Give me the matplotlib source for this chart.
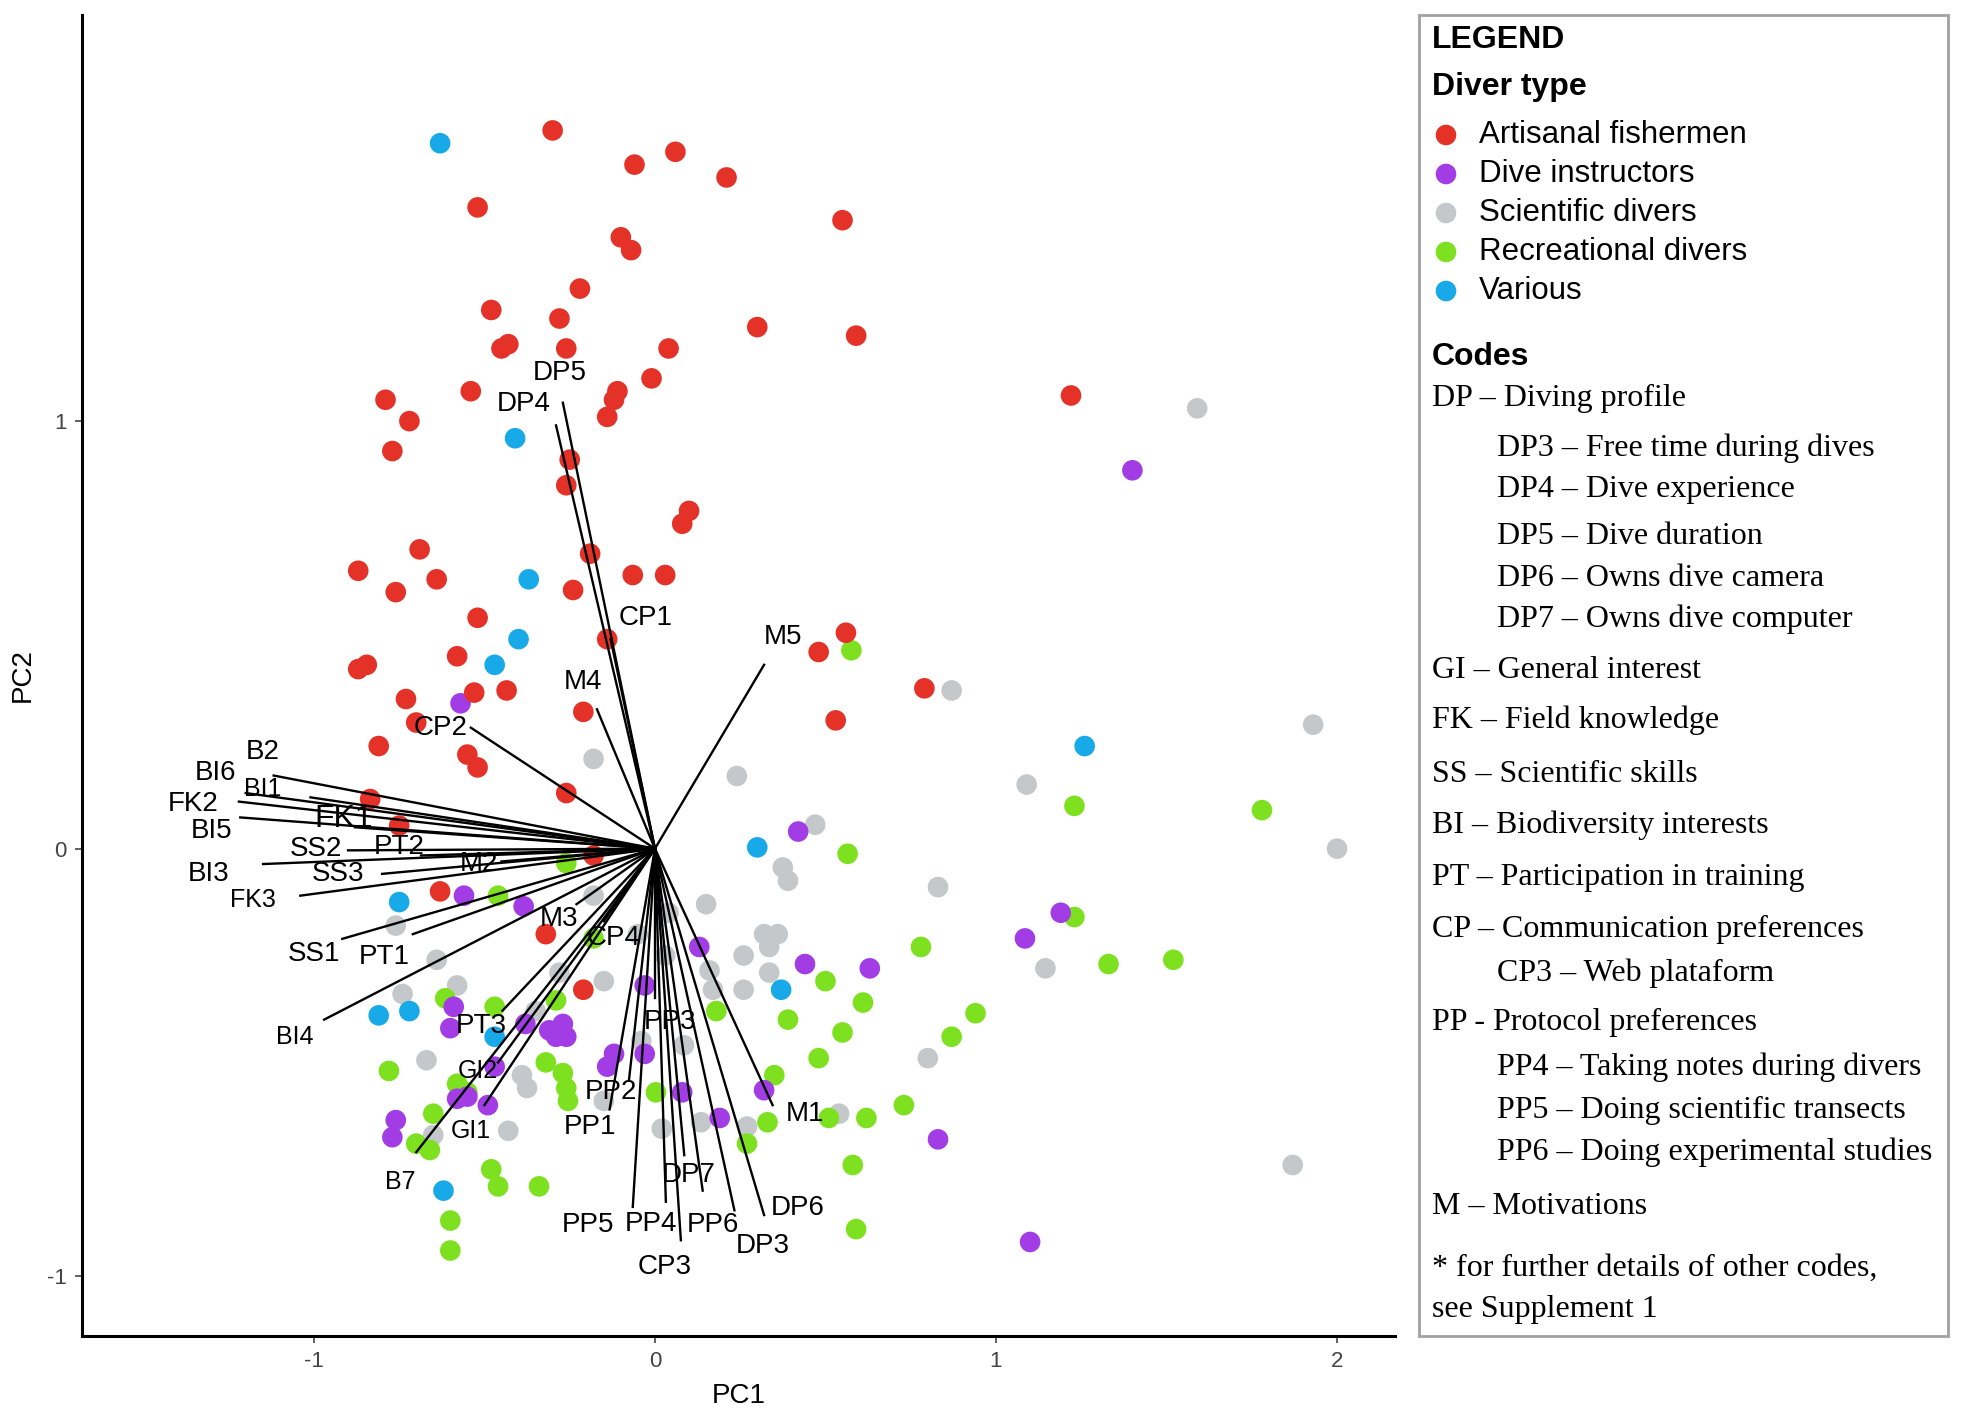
import matplotlib
matplotlib.use("Agg")
import matplotlib.pyplot as plt
from matplotlib.patches import Rectangle

# --- individual scores (PC1, PC2) by diver type ---
fisher_x = [-0.30, -0.06, 0.06, 0.21, -0.52, 0.55, -0.10, -0.07, -0.22, -0.48, -0.28, 0.30, 0.59,
            -0.43, -0.45, -0.26, 0.04, -0.01, -0.54, -0.11, -0.12, -0.79, -0.72, -0.14, 1.22, -0.77,
            -0.25, -0.26, 0.10, 0.08, -0.69, -0.87, -0.76, -0.64, -0.19, -0.065, 0.03, -0.24, -0.52,
            -0.14, 0.56, 0.48, -0.58, -0.87, -0.845, -0.73, -0.53, -0.435, -0.21, 0.53, 0.79, -0.70,
            -0.81, -0.55, -0.52, -0.26, -0.835, -0.75, -0.18, -0.63, -0.32, -0.21]
fisher_y = [1.68, 1.60, 1.63, 1.57, 1.50, 1.47, 1.43, 1.40, 1.31, 1.26, 1.24, 1.22, 1.20,
            1.18, 1.17, 1.17, 1.17, 1.10, 1.07, 1.07, 1.05, 1.05, 1.00, 1.01, 1.06, 0.93,
            0.91, 0.85, 0.79, 0.76, 0.70, 0.65, 0.60, 0.63, 0.69, 0.64, 0.64, 0.605, 0.54,
            0.49, 0.505, 0.46, 0.45, 0.42, 0.43, 0.35, 0.365, 0.37, 0.32, 0.30, 0.375, 0.295,
            0.24, 0.22, 0.19, 0.13, 0.116, 0.054, -0.016, -0.10, -0.20, -0.33]

instr_x = [1.40, -0.57, 0.42, -0.56, -0.385, 1.19, 1.085, 0.13, 0.44, 0.63, -0.03, -0.59, -0.60,
           -0.38, -0.31, -0.27, -0.26, -0.29, -0.12, -0.14, -0.03, -0.47, -0.58, -0.55, -0.49,
           0.08, 0.32, 0.19, -0.76, -0.77, 0.83, 1.10]
instr_y = [0.885, 0.34, 0.04, -0.11, -0.135, -0.15, -0.21, -0.23, -0.27, -0.28, -0.32, -0.37, -0.42,
           -0.41, -0.425, -0.41, -0.44, -0.44, -0.48, -0.51, -0.48, -0.51, -0.585, -0.58, -0.60,
           -0.57, -0.565, -0.63, -0.635, -0.675, -0.68, -0.92]

sci_x = [1.59, 0.87, 1.93, -0.18, 0.24, 1.09, 0.47, 2.00, 0.375, 0.39, 0.83, -0.18, 0.15, -0.76,
         0.32, 0.36, 0.335, 0.26, -0.64, 1.145, 0.335, 0.16, -0.28, -0.15, -0.58, 0.26, 0.17, -0.74,
         -0.35, -0.04, 0.085, -0.67, 0.80, -0.39, -0.375, -0.15, 0.54, 0.135, -0.43, -0.65, 0.02,
         0.27, 1.87, 0.04, 0.03, -0.05]
sci_y = [1.03, 0.37, 0.29, 0.21, 0.17, 0.15, 0.056, 0.00, -0.044, -0.075, -0.09, -0.11, -0.13, -0.18,
         -0.20, -0.20, -0.23, -0.25, -0.26, -0.28, -0.29, -0.285, -0.29, -0.31, -0.32, -0.33, -0.33, -0.34,
         -0.38, -0.45, -0.46, -0.495, -0.49, -0.53, -0.56, -0.59, -0.62, -0.64, -0.66, -0.67, -0.655,
         -0.65, -0.74, -0.15, -0.25, -0.20]

rec_x = [0.576, 1.23, 1.78, 0.565, -0.26, -0.46, 1.23, -0.18, 0.78, 1.52, 1.33, -0.615, -0.47, -0.29,
         0.18, 0.50, 0.61, 0.39, 0.94, 0.87, 0.55, 0.48, -0.78, -0.32, -0.27, -0.26, -0.255, -0.58,
         -0.55, 0.003, 0.35, -0.65, 0.33, 0.51, 0.62, 0.73, -0.70, -0.66, 0.27, 0.58, -0.48, -0.46,
         -0.34, -0.60, 0.59, -0.60]
rec_y = [0.464, 0.10, 0.09, -0.012, -0.034, -0.11, -0.16, -0.21, -0.23, -0.26, -0.27, -0.35, -0.37, -0.355,
         -0.38, -0.31, -0.36, -0.40, -0.385, -0.44, -0.43, -0.49, -0.52, -0.50, -0.525, -0.56, -0.59, -0.55,
         -0.57, -0.57, -0.53, -0.62, -0.64, -0.63, -0.63, -0.60, -0.69, -0.705, -0.69, -0.74, -0.75, -0.79,
         -0.79, -0.87, -0.89, -0.94]

var_x = [-0.63, -0.41, -0.37, -0.40, -0.47, 1.26, 0.30, -0.75, 0.37, -0.81, -0.72, -0.47, -0.62]
var_y = [1.65, 0.96, 0.63, 0.49, 0.43, 0.24, 0.003, -0.125, -0.33, -0.39, -0.38, -0.44, -0.80]

# --- variable loadings: name, arrow end, label position ---
load_names = ['B2', 'BI6', 'BI1', 'FK2', 'BI5', 'FK1', 'PT2', 'SS2', 'BI3', 'SS3', 'M2', 'FK3',
              'SS1', 'PT1', 'M3', 'BI4', 'CP2', 'DP5', 'DP4', 'CP1', 'M4', 'M5', 'PT3', 'GI2',
              'GI1', 'B7', 'CP4', 'PP3', 'PP2', 'PP1', 'PP5', 'PP4', 'CP3', 'DP7', 'PP6', 'DP3',
              'DP6', 'M1']
load_x = [-1.118, -1.20, -1.01, -1.22, -1.216, -0.88, -0.686, -0.90, -1.149, -0.80, -0.45, -1.04,
          -0.917, -0.71, -0.23, -0.97, -0.54, -0.27, -0.29, -0.13, -0.17, 0.32, -0.447, -0.46,
          -0.50, -0.70, -0.15, 0.0, -0.076, -0.133, -0.065, 0.032, 0.076, 0.086, 0.14, 0.233,
          0.32, 0.345]
load_y = [0.171, 0.13, 0.12, 0.11, 0.073, 0.05, -0.016, -0.004, -0.036, -0.059, -0.03, -0.11,
          -0.211, -0.20, -0.13, -0.40, 0.283, 1.043, 0.99, 0.49, 0.326, 0.43, -0.379, -0.50,
          -0.60, -0.71, -0.17, -0.35, -0.54, -0.61, -0.838, -0.826, -0.916, -0.717, -0.80, -0.846,
          -0.857, -0.60]
lab_x = [-1.149, -1.29, -1.149, -1.355, -1.30, -0.912, -0.75, -0.994, -1.31, -0.93, -0.516, -1.18,
         -1.0, -0.794, -0.28, -1.056, -0.63, -0.28, -0.384, -0.028, -0.21, 0.375, -0.51, -0.52,
         -0.54, -0.746, -0.12, 0.045, -0.128, -0.19, -0.195, -0.012, 0.027, 0.10, 0.17, 0.316,
         0.42, 0.44]
lab_y = [0.225, 0.178, 0.139, 0.104, 0.042, 0.069, 0.003, 0.0, -0.059, -0.059, -0.036, -0.121,
         -0.246, -0.254, -0.164, -0.44, 0.283, 1.113, 1.039, 0.54, 0.39, 0.494, -0.414, -0.52,
         -0.66, -0.78, -0.21, -0.406, -0.57, -0.65, -0.88, -0.877, -0.978, -0.764, -0.88, -0.93,
         -0.84, -0.62]
small_labels = ['BI1', 'FK3', 'BI4', 'GI1', 'GI2', 'B7']

# --- legend content ---
type_names = ['Artisanal fishermen', 'Dive instructors', 'Scientific divers',
              'Recreational divers', 'Various']
type_colors = ['#e53228', '#a23de6', '#c4c8ca', '#7ee11f', '#17a9e8']
code_text = ['DP – Diving profile', 'DP3 – Free time during dives', 'DP4 – Dive experience',
             'DP5 – Dive duration', 'DP6 – Owns dive camera', 'DP7 – Owns dive computer',
             'GI – General interest', 'FK – Field knowledge', 'SS – Scientific skills',
             'BI – Biodiversity interests', 'PT – Participation in training',
             'CP – Communication preferences', 'CP3 – Web plataform', 'PP - Protocol preferences',
             'PP4 – Taking notes during divers', 'PP5 – Doing scientific transects',
             'PP6 – Doing experimental studies', 'M – Motivations',
             '* for further details of other codes,', 'see Supplement 1']
code_indent = [0, 1, 1, 1, 1, 1, 0, 0, 0, 0, 0, 0, 1, 0, 1, 1, 1, 0, 0, 0]

W, H = 1964, 1409
fig = plt.figure(figsize=(W / 100, H / 100), dpi=100)
ax = fig.add_axes([82 / W, 1 - 1336 / H, (1395 - 82) / W, (1336 - 15) / H])

sans = ['Liberation Sans', 'DejaVu Sans']
narrow = ['Liberation Sans Narrow', 'Liberation Sans', 'DejaVu Sans']
serif = ['Liberation Serif', 'DejaVu Serif']

groups = [(sci_x, sci_y, type_colors[2]), (rec_x, rec_y, type_colors[3]),
          (instr_x, instr_y, type_colors[1]), (var_x, var_y, type_colors[4]),
          (fisher_x, fisher_y, type_colors[0])]
for gx, gy, col in groups:
    ax.scatter(gx, gy, s=220, color=col, edgecolors='none', zorder=2)

for name, ex, ey, tx, ty in zip(load_names, load_x, load_y, lab_x, lab_y):
    ax.plot([0, ex], [0, ey], color='black', lw=1.7, zorder=3)
    if name in small_labels:
        size = 18
    elif name == 'FK1':
        size = 23
    else:
        size = 20
    ax.text(tx, ty, name, ha='center', va='center', fontsize=size, family=sans, zorder=4)

ax.set_xlim(-1.68, 2.17)
ax.set_ylim(-1.14, 1.95)
ax.set_xticks([-1, 0, 1, 2])
ax.set_yticks([-1, 0, 1])
ax.set_xticklabels(['-1', '0', '1', '2'], family=narrow)
ax.set_yticklabels(['-1', '0', '1'], family=narrow)
ax.tick_params(labelsize=16, colors='#444444', length=5, width=1.2, pad=6)
for s in ['top', 'right']:
    ax.spines[s].set_visible(False)
for s in ['left', 'bottom']:
    ax.spines[s].set_linewidth(2.2)
ax.set_xlabel('PC1', fontsize=20, family=narrow, labelpad=8)
ax.set_ylabel('PC2', fontsize=20, family=narrow, labelpad=8)

# legend panel drawn in pixel coordinates
lg = fig.add_axes([0, 0, 1, 1], facecolor='none')
lg.set_xlim(0, W)
lg.set_ylim(H, 0)
lg.axis('off')
lg.add_patch(Rectangle((1419, 15), 529, 1321, fill=False, edgecolor='#a0a0a0', lw=2))

lg.text(1432, 40, 'LEGEND', fontsize=23, fontweight='bold', family=sans, va='center')
lg.text(1432, 87, 'Diver type', fontsize=23, fontweight='bold', family=sans, va='center')
type_y = [135, 174, 213, 252, 291]
for name, col, yy in zip(type_names, type_colors, type_y):
    lg.scatter([1446], [yy], s=220, color=col, edgecolors='none')
    lg.text(1479, yy, name, fontsize=22.5, family=sans, va='center')

lg.text(1432, 357, 'Codes', fontsize=23, fontweight='bold', family=sans, va='center')
code_y = [398, 448, 489, 536, 579, 619, 670, 720, 774, 825, 877, 929, 973, 1022, 1067,
          1110, 1152, 1206, 1268, 1309]
for txt, ind, yy in zip(code_text, code_indent, code_y):
    lg.text(1432 + 65 * ind, yy, txt, fontsize=23, family=serif, va='center')

fig.savefig('out.png', dpi=100)
